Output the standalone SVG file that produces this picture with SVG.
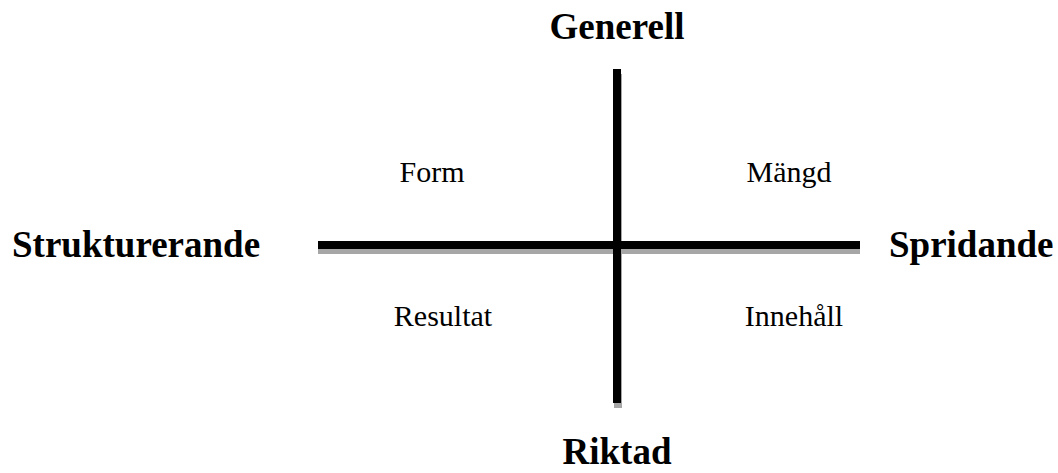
<svg xmlns="http://www.w3.org/2000/svg" width="1058" height="473" viewBox="0 0 1058 473">
<style>
.big{font-family:"Liberation Serif","Times New Roman",serif;font-weight:bold;font-size:37px;fill:#000}
.small{font-family:"Liberation Serif","Times New Roman",serif;font-size:30px;fill:#000}
.shadow{fill:#a6a6a6}
.bar{fill:#000}
</style>
<rect width="1058" height="473" fill="#fff"/>
<g id="connectors">
<rect class="shadow" x="318" y="245" width="542" height="9"/>
<rect class="shadow" x="614" y="74" width="8" height="334"/>
<rect class="bar" x="318" y="241" width="542" height="8"/>
<rect class="bar" x="613" y="69" width="8" height="334"/>
</g>
<g id="generell"><text class="big" x="617" y="39" text-anchor="middle" font-size="36">Generell</text></g>
<g id="riktad"><text class="big" x="617" y="464" text-anchor="middle" font-size="36">Riktad</text></g>
<g id="strukturerande"><text class="big" x="12" y="257">Strukturerande</text></g>
<g id="spridande"><text class="big" x="889" y="257">Spridande</text></g>
<g id="form"><text class="small" x="432" y="182" text-anchor="middle">Form</text></g>
<g id="mangd"><text class="small" x="789" y="182" text-anchor="middle">Mängd</text></g>
<g id="resultat"><text class="small" x="443" y="326" text-anchor="middle">Resultat</text></g>
<g id="innehall"><text class="small" x="794" y="326" text-anchor="middle">Innehåll</text></g>
</svg>
